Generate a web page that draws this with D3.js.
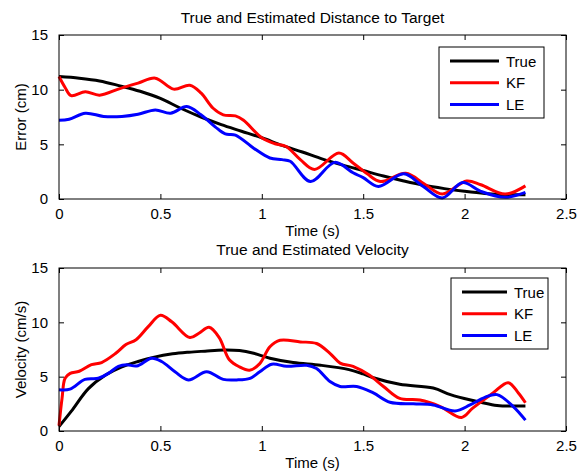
<!DOCTYPE html>
<html>
<head>
<meta charset="utf-8">
<script src="https://cdn.jsdelivr.net/npm/d3@7"></script>
<style>
  body { margin: 0; background: #fff; }
  svg { display: block; font-family: "Liberation Sans", Arial, Helvetica, sans-serif; }
  .tick text { font-size: 15px; fill: #000; }
</style>
</head>
<body>
<section></section>
<script>
// chart data: [time (s), value]
const seriesNames = ['True', 'KF', 'LE'];
const seriesColors = ['#000000', '#ff0000', '#0000ff'];
const xTicks = [0, 0.5, 1, 1.5, 2, 2.5];
const yTicks = [0, 5, 10, 15];

const distTrue = [
  [0, 11.2], [0.1, 11.05], [0.2, 10.8], [0.3, 10.35], [0.4, 9.85], [0.5, 9.2],
  [0.6, 8.3], [0.7, 7.5], [0.8, 6.8], [0.9, 6.2], [1.0, 5.6], [1.1, 4.9],
  [1.2, 4.3], [1.3, 3.65], [1.4, 3.1], [1.5, 2.6], [1.6, 2.1], [1.7, 1.65],
  [1.8, 1.25], [1.9, 0.95], [2.0, 0.7], [2.1, 0.5], [2.2, 0.4], [2.3, 0.4]
];
const distKF = [
  [0, 11.2], [0.03, 10.2], [0.06, 9.45], [0.13, 9.8], [0.2, 9.5], [0.3, 10.1],
  [0.39, 10.6], [0.475, 11.05], [0.565, 10.05], [0.645, 10.4], [0.7, 9.7],
  [0.76, 8.3], [0.81, 7.7], [0.87, 7.6], [0.91, 7.2], [1.0, 5.6], [1.065, 5.05],
  [1.12, 4.8], [1.19, 3.6], [1.26, 2.7], [1.38, 4.2], [1.45, 3.3], [1.52, 2.3],
  [1.585, 1.6], [1.71, 2.35], [1.8, 1.4], [1.89, 0.45], [2.01, 1.65], [2.08, 1.3],
  [2.2, 0.45], [2.3, 1.2]
];
const distLE = [
  [0, 7.2], [0.05, 7.3], [0.13, 7.85], [0.22, 7.55], [0.31, 7.55], [0.39, 7.75],
  [0.475, 8.15], [0.55, 7.85], [0.63, 8.45], [0.7, 7.7], [0.77, 6.6], [0.82, 5.95],
  [0.87, 5.85], [0.96, 4.65], [1.04, 3.75], [1.1, 3.6], [1.14, 3.45], [1.24, 1.6],
  [1.36, 3.35], [1.45, 2.4], [1.5, 1.95], [1.575, 1.15], [1.7, 2.3], [1.796, 1.15],
  [1.89, 0.1], [1.99, 1.5], [2.08, 0.7], [2.2, 0.15], [2.3, 0.6]
];

const velTrue = [
  [0, 0.4], [0.06, 1.8], [0.145, 3.9], [0.23, 5.15], [0.31, 5.9], [0.39, 6.4],
  [0.47, 6.8], [0.56, 7.1], [0.64, 7.25], [0.72, 7.35], [0.81, 7.45], [0.89, 7.4],
  [0.96, 7.15], [1.04, 6.7], [1.155, 6.3], [1.29, 6.05], [1.43, 5.65], [1.5, 5.25],
  [1.55, 4.9], [1.68, 4.3], [1.845, 3.95], [1.93, 3.35], [2.03, 2.85], [2.08, 2.65],
  [2.16, 2.35], [2.3, 2.3]
];
const velKF = [
  [0, 0.5], [0.015, 3.0], [0.03, 4.85], [0.055, 5.3], [0.1, 5.5], [0.16, 6.1],
  [0.21, 6.3], [0.28, 7.15], [0.33, 7.95], [0.38, 8.4], [0.44, 9.6], [0.5, 10.65],
  [0.556, 10.05], [0.645, 8.6], [0.69, 9.0], [0.74, 9.55], [0.79, 8.6], [0.84, 6.55],
  [0.89, 5.9], [0.94, 5.6], [0.99, 6.2], [1.04, 7.75], [1.09, 8.35], [1.19, 8.2],
  [1.27, 8.05], [1.336, 7.15], [1.386, 6.25], [1.45, 5.95], [1.53, 5.15], [1.6, 4.1],
  [1.68, 3.0], [1.78, 2.85], [1.88, 2.25], [1.985, 1.25], [2.04, 2.1], [2.14, 3.5],
  [2.215, 4.45], [2.265, 3.5], [2.3, 2.6]
];
const velLE = [
  [0, 3.8], [0.054, 3.85], [0.128, 4.75], [0.194, 4.85], [0.243, 5.3], [0.293, 5.95],
  [0.334, 6.1], [0.383, 5.98], [0.457, 6.7], [0.506, 6.4], [0.572, 5.45], [0.638, 4.7],
  [0.728, 5.45], [0.81, 4.75], [0.876, 4.7], [0.942, 4.85], [0.99, 5.45], [1.049, 6.15],
  [1.123, 5.95], [1.221, 6.05], [1.27, 5.75], [1.336, 4.55], [1.386, 4.1], [1.468, 4.1],
  [1.55, 3.5], [1.632, 2.65], [1.747, 2.5], [1.845, 2.4], [1.953, 1.85], [2.027, 2.4],
  [2.1, 3.1], [2.16, 3.35], [2.24, 2.25], [2.3, 1.0]
];

const width = 585;
const height = 471;
const left = 59;
const right = 566;

const svg = d3.select('section')
  .append('svg')
  .attr('width', width)
  .attr('height', height);

// one subplot: frame, ticks on all four sides, labels, lines, legend
const drawPanel = (opts) => {
  const { top, bottom, title, titleY, yLabel, series, legend } = opts;

  const x = d3.scaleLinear().domain([0, 2.5]).range([left, right]);
  const y = d3.scaleLinear().domain([0, 15]).range([bottom, top]);

  const g = svg.append('g');

  g.append('g')
    .attr('transform', `translate(0, ${bottom})`)
    .call(d3.axisBottom(x).tickValues(xTicks).tickSizeInner(-5).tickSizeOuter(0).tickPadding(9)
      .tickFormat(d3.format('')))
    .call((a) => a.select('.domain').remove());
  g.append('g')
    .attr('transform', `translate(0, ${top})`)
    .call(d3.axisTop(x).tickValues(xTicks).tickSizeInner(-5).tickSizeOuter(0).tickFormat(''))
    .call((a) => a.select('.domain').remove());
  g.append('g')
    .attr('transform', `translate(${left}, 0)`)
    .call(d3.axisLeft(y).tickValues(yTicks).tickSizeInner(-5).tickSizeOuter(0).tickPadding(11))
    .call((a) => a.select('.domain').remove());
  g.append('g')
    .attr('transform', `translate(${right}, 0)`)
    .call(d3.axisRight(y).tickValues(yTicks).tickSizeInner(-5).tickSizeOuter(0).tickFormat(''))
    .call((a) => a.select('.domain').remove());
  g.selectAll('.tick line').attr('stroke', '#000');

  const line = d3.line()
    .x((d) => x(d[0]))
    .y((d) => y(d[1]))
    .curve(d3.curveCatmullRom.alpha(0.5));

  g.selectAll('path.series')
    .data(series)
    .enter()
    .append('path')
    .attr('class', 'series')
    .attr('d', (d) => line(d))
    .attr('fill', 'none')
    .attr('stroke', (d, i) => seriesColors[i])
    .attr('stroke-width', 3)
    .attr('stroke-linejoin', 'round');

  g.append('rect')
    .attr('x', left)
    .attr('y', top)
    .attr('width', right - left)
    .attr('height', bottom - top)
    .attr('fill', 'none')
    .attr('stroke', '#000')
    .attr('stroke-width', 1);

  g.append('text')
    .attr('x', (left + right) / 2)
    .attr('y', titleY)
    .attr('text-anchor', 'middle')
    .style('font-size', '15.5px')
    .text(title);

  g.append('text')
    .attr('x', (left + right) / 2)
    .attr('y', bottom + 37)
    .attr('text-anchor', 'middle')
    .style('font-size', '15px')
    .text('Time (s)');

  g.append('text')
    .attr('transform', `translate(26, ${(top + bottom) / 2}) rotate(-90)`)
    .attr('text-anchor', 'middle')
    .style('font-size', '15px')
    .text(yLabel);

  // legend box
  const lg = g.append('g').attr('transform', `translate(${legend.x}, ${legend.y})`);
  lg.append('rect')
    .attr('width', legend.w)
    .attr('height', 71)
    .attr('fill', '#fff')
    .attr('stroke', '#000')
    .attr('stroke-width', 1);
  seriesNames.forEach((name, i) => {
    const ry = 14 + i * 21.8;
    lg.append('line')
      .attr('x1', 11)
      .attr('x2', legend.lineEnd)
      .attr('y1', ry)
      .attr('y2', ry)
      .attr('stroke', seriesColors[i])
      .attr('stroke-width', 3);
    lg.append('text')
      .attr('x', legend.lineEnd + 7)
      .attr('y', ry + 5.5)
      .style('font-size', '15px')
      .text(name);
  });
};

drawPanel({
  top: 35,
  bottom: 199,
  title: 'True and Estimated Distance to Target',
  titleY: 23,
  yLabel: 'Error (cm)',
  series: [distTrue, distKF, distLE],
  legend: { x: 439, y: 47, w: 105, lineEnd: 60 }
});

drawPanel({
  top: 268,
  bottom: 431,
  title: 'True and Estimated Velocity',
  titleY: 255,
  yLabel: 'Velocity (cm/s)',
  series: [velTrue, velKF, velLE],
  legend: { x: 451, y: 278, w: 97, lineEnd: 56 }
});
</script>
</body>
</html>
